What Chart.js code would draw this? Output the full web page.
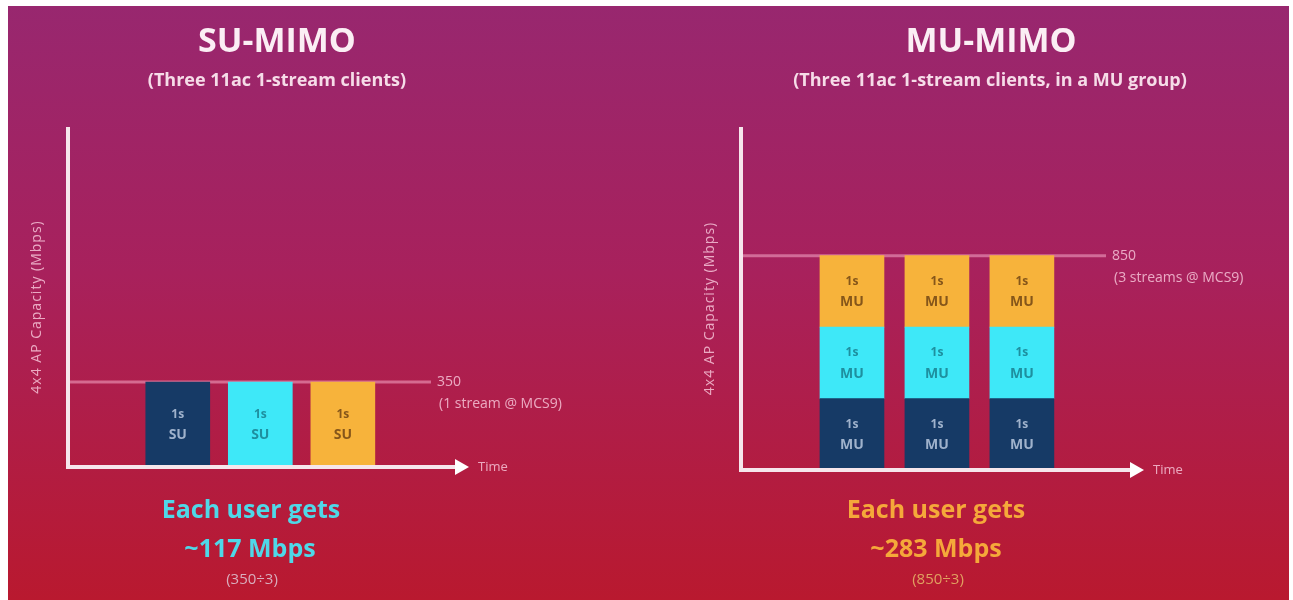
<!DOCTYPE html>
<html lang="en">
<head>
  <meta charset="UTF-8">
  <title>SU-MIMO vs MU-MIMO</title>
  <script src="https://cdn.jsdelivr.net/npm/chart.js"></script>
  <style>
    body {
      margin: 0;
      width: 1293px;
      height: 600px;
      background: #fff;
      overflow: hidden;
      font-family: "Open Sans", Arial, sans-serif;
    }
    #panel {
      position: absolute;
      left: 8px;
      top: 6px;
      width: 1281px;
      height: 594px;
      background: linear-gradient(to bottom, #98276f 0%, #a8215c 45%, #b9192f 100%);
    }
    canvas {
      position: absolute;
      top: 0;
    }
    .txt {
      position: absolute;
      transform: translateX(-50%);
      white-space: nowrap;
      font-weight: 700;
      text-align: center;
    }
    .title { font-size: 34px; color: #fbeef4; top: 16px; }
    .sub { font-size: 18px; color: #f6dce8; top: 67px; }
    .gets { font-size: 25px; top: 491px; }
    .mbps { font-size: 25px; top: 530px; }
    .calc { font-size: 15px; font-weight: 400; top: 568px; color: #d9aebd; }
  </style>
</head>
<body>
  <div id="panel"></div>
  <canvas id="suChart" width="650" height="600" style="left:0"></canvas>
  <canvas id="muChart" width="643" height="600" style="left:650px"></canvas>

  <div class="txt title" style="left:277px">SU-MIMO</div>
  <div class="txt sub" style="left:277px">(Three 11ac 1-stream clients)</div>
  <div class="txt gets" style="left:251px; color:#4fd8e8">Each user gets</div>
  <div class="txt mbps" style="left:250px; color:#4fd8e8">~117 Mbps</div>
  <div class="txt calc" style="left:252px">(350÷3)</div>

  <div class="txt title" style="left:991px">MU-MIMO</div>
  <div class="txt sub" style="left:990px">(Three 11ac 1-stream clients, in a MU group)</div>
  <div class="txt gets" style="left:936px; color:#f5a83a">Each user gets</div>
  <div class="txt mbps" style="left:936px; color:#f5a83a">~283 Mbps</div>
  <div class="txt calc" style="left:938px; color:#e0a060">(850÷3)</div>

  <script>
    // time slots (one per client)
    const slots = [1, 2, 3];

    // SU-MIMO: each client gets the whole 1-stream link, one after the other
    const suValues = [350, 350, 350];
    const suCapacity = 350;
    const suCapacityNote = "(1 stream @ MCS9)";

    // MU-MIMO: three clients share each slot
    const muClientA = [283.3, 283.3, 283.3];
    const muClientB = [283.3, 283.3, 283.3];
    const muClientC = [283.3, 283.3, 283.3];
    const muCapacity = 850;
    const muCapacityNote = "(3 streams @ MCS9)";

    const yTitle = "4x4 AP Capacity (Mbps)";

    const NAVY = "#163a66", CYAN = "#3ee8f8", ORANGE = "#f7b33b";
    const labelInk = { [NAVY]: "#9fb2cc", [CYAN]: "#1e8f9f", [ORANGE]: "#85561a" };
    const AXIS = "#f6e6ec";
    const PALE = "rgba(250,205,222,0.8)";

    const diagram = {
      id: "diagram",
      beforeDatasetsDraw(chart, args, opts) {
        const ctx = chart.ctx, a = chart.chartArea;
        const yy = chart.scales.y.getPixelForValue(opts.capacity);
        ctx.save();
        ctx.strokeStyle = "rgba(245,170,200,0.55)";
        ctx.lineWidth = 3;
        ctx.beginPath();
        ctx.moveTo(a.left, yy);
        ctx.lineTo(a.right - 34, yy);
        ctx.stroke();
        ctx.fillStyle = PALE;
        ctx.font = "14px 'Open Sans', sans-serif";
        ctx.textBaseline = "middle";
        ctx.fillText(String(opts.capacity), a.right - 28, yy);
        ctx.fillText(opts.note, a.right - 26, yy + 22);
        ctx.restore();
      },
      afterDatasetsDraw(chart, args, opts) {
        const ctx = chart.ctx, a = chart.chartArea;
        ctx.save();
        // bar captions
        ctx.textAlign = "center";
        ctx.textBaseline = "middle";
        chart.data.datasets.forEach((ds, di) => {
          chart.getDatasetMeta(di).data.forEach((bar, i) => {
            const bg = Array.isArray(ds.backgroundColor) ? ds.backgroundColor[i] : ds.backgroundColor;
            const mid = (bar.y + bar.base) / 2;
            ctx.fillStyle = labelInk[bg];
            ctx.font = "bold 12px 'Open Sans', sans-serif";
            ctx.fillText("1s", bar.x, mid - 10);
            ctx.font = "bold 14px 'Open Sans', sans-serif";
            ctx.fillText(opts.tag, bar.x, mid + 11);
          });
        });
        // axes
        ctx.strokeStyle = AXIS;
        ctx.lineWidth = 4;
        ctx.beginPath();
        ctx.moveTo(a.left, a.top);
        ctx.lineTo(a.left, a.bottom);
        ctx.lineTo(a.right - 6, a.bottom);
        ctx.stroke();
        ctx.fillStyle = "#ffffff";
        ctx.beginPath();
        ctx.moveTo(a.right - 10, a.bottom - 8);
        ctx.lineTo(a.right + 4, a.bottom);
        ctx.lineTo(a.right - 10, a.bottom + 8);
        ctx.closePath();
        ctx.fill();
        ctx.fillStyle = PALE;
        ctx.font = "13px 'Open Sans', sans-serif";
        ctx.textAlign = "left";
        ctx.fillText("Time", a.right + 13, a.bottom);
        // y title
        ctx.translate(a.left - 31, (a.top + a.bottom) / 2 + 10);
        ctx.rotate(-Math.PI / 2);
        ctx.textAlign = "center";
        ctx.font = "14px 'Open Sans', sans-serif";
        ctx.letterSpacing = "1px";
        ctx.fillText(yTitle, 0, 0);
        ctx.restore();
      }
    };

    function baseOptions(pad, xMin, xMax, yMax, capacity, note, tag) {
      return {
        responsive: false,
        animation: false,
        layout: { padding: pad },
        plugins: {
          legend: { display: false },
          tooltip: { enabled: false },
          diagram: { capacity: capacity, note: note, tag: tag }
        },
        scales: {
          x: { type: "linear", min: xMin, max: xMax, offset: false, display: false, stacked: true },
          y: { min: 0, max: yMax, display: false, stacked: true }
        }
      };
    }

    new Chart(document.getElementById("suChart"), {
      type: "bar",
      data: {
        datasets: [{
          data: slots.map((s, i) => ({ x: s, y: suValues[i] })),
          backgroundColor: [NAVY, CYAN, ORANGE],
          barThickness: 64
        }]
      },
      options: baseOptions({ left: 68, top: 127, right: 185, bottom: 133 },
        -0.33, 4.48, 1400, suCapacity, suCapacityNote, "SU"),
      plugins: [diagram]
    });

    new Chart(document.getElementById("muChart"), {
      type: "bar",
      data: {
        datasets: [
          { data: slots.map((s, i) => ({ x: s, y: muClientA[i] })), backgroundColor: NAVY, barThickness: 64 },
          { data: slots.map((s, i) => ({ x: s, y: muClientB[i] })), backgroundColor: CYAN, barThickness: 64 },
          { data: slots.map((s, i) => ({ x: s, y: muClientC[i] })), backgroundColor: ORANGE, barThickness: 64 }
        ]
      },
      options: baseOptions({ left: 91, top: 127, right: 153, bottom: 130 },
        -0.306, 4.39, 1360, muCapacity, muCapacityNote, "MU"),
      plugins: [diagram]
    });
  </script>
</body>
</html>
